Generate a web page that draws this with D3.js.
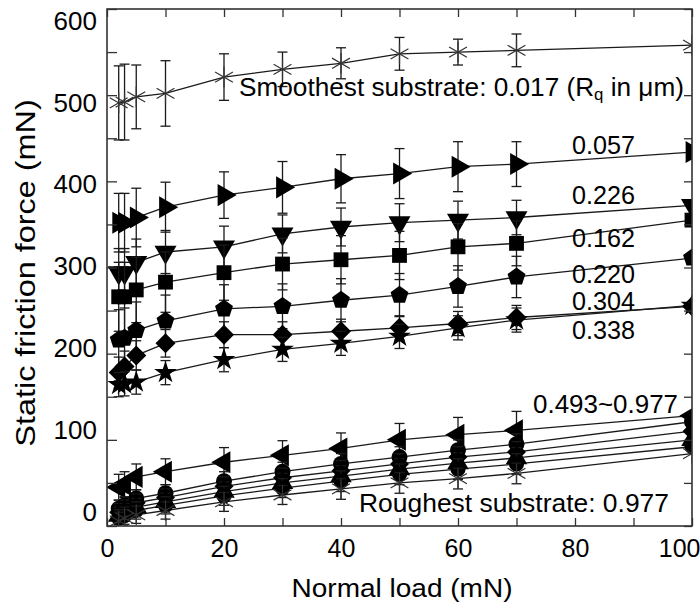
<!DOCTYPE html>
<html>
<head>
<meta charset="utf-8">
<script src="https://cdn.jsdelivr.net/npm/d3@7"></script>
<style>
  body { margin: 0; background: #fff; }
  text { font-family: "Liberation Sans", Arial, sans-serif; fill: #000; }
</style>
</head>
<body>
<svg id="chart"></svg>
<script>
// normal load (mN) at which each substrate was measured
const loads = [2, 3, 5, 10, 20, 30, 40, 50, 60, 70, 100];

// static friction force (mN), one array per substrate roughness Rq (um)
const rq017 = [491, 492, 498, 502, 521, 530, 537, 548, 550, 552, 558];
const rq057 = [352, 352, 358, 370, 384, 393, 403, 409, 417, 420, 434];
const rq226 = [294, 294, 306, 318, 324, 339, 347, 352, 355, 358, 372];
const rq162 = [266, 266, 274, 283, 294, 304, 309, 314, 324, 328, 355];
const rq220 = [216, 218, 227, 238, 252, 255, 262, 268, 278, 289, 311];
const rq304 = [178, 185, 198, 212, 222, 222, 226, 230, 235, 242, 255];
const rq338 = [164, 165, 167, 178, 193, 205, 212, 220, 230, 239, 256];
const rq493 = [45, 48, 57, 63, 74, 82, 90, 100, 106, 111, 128];
const rqLowB = [20, 24, 32, 38, 52, 63, 72, 80, 88, 95, 121];
const rqLowC = [16, 20, 27, 33, 46, 56, 64, 72, 80, 86, 110];
const rqLowD = [12, 16, 22, 28, 40, 50, 58, 66, 73, 79, 100];
const rqLowE = [9, 12, 18, 24, 35, 44, 52, 60, 66, 72, 92];
const rq977 = [6, 9, 13, 18, 28, 36, 43, 50, 55, 61, 84];

// error bars (+/- mN)
const err017 = [43, 44, 37, 38, 27, 20, 18, 19, 15, 19, 0];
const err057 = [34, 34, 34, 29, 27, 30, 28, 29, 29, 26, 0];
const err226 = [28, 28, 27, 25, 24, 22, 22, 22, 22, 20, 0];
const err162 = [40, 40, 38, 35, 32, 30, 28, 28, 27, 26, 0];
const err220 = [35, 35, 33, 30, 28, 26, 25, 25, 24, 24, 0];
const err304 = [18, 18, 17, 16, 15, 15, 14, 14, 14, 14, 0];
const err338 = [14, 14, 14, 14, 14, 14, 14, 14, 14, 14, 0];
const err493 = [15, 15, 15, 15, 17, 17, 18, 19, 20, 22, 0];
const errLow = [10, 10, 10, 10, 11, 11, 12, 12, 12, 12, 0];

// ticks
const yTicks = d3.range(0, 601, 50);
const xTicks = d3.range(0, 101, 10);

const width = 700;
const height = 604;
const mLeft = 107, mRight = 692, mTop = 9, mBottom = 526;

const svg = d3.select("#chart")
    .attr("width", width)
    .attr("height", height);

const x = d3.scaleLinear().domain([0, 100]).range([mLeft, mRight]);
const y = d3.scaleLinear().domain([0, 600]).range([mBottom, mTop]);
// tick labels in the picture sit slightly squeezed compared with the ticks
const yLab = d3.scaleLinear().domain([0, 600]).range([512, 21]);

// custom symbols
const symbolPentagon = {
    draw(ctx, size) {
        const r = Math.sqrt(size / 2.378);
        for (let i = 0; i < 5; i++) {
            const a = -Math.PI / 2 + i * 2 * Math.PI / 5;
            if (i === 0) ctx.moveTo(r * Math.cos(a), r * Math.sin(a));
            else ctx.lineTo(r * Math.cos(a), r * Math.sin(a));
        }
        ctx.closePath();
    }
};

const series = [
    { v: rq017, e: err017, sym: d3.symbolAsterisk, size: 300, rot: 0, stroke: true },
    { v: rq057, e: err057, sym: d3.symbolTriangle, size: 210, rot: 90 },
    { v: rq226, e: err226, sym: d3.symbolTriangle, size: 210, rot: 180 },
    { v: rq162, e: err162, sym: d3.symbolSquare, size: 220, rot: 0 },
    { v: rq220, e: err220, sym: symbolPentagon, size: 210, rot: 0 },
    { v: rq304, e: err304, sym: d3.symbolSquare, size: 200, rot: 45 },
    { v: rq338, e: err338, sym: d3.symbolStar, size: 160, rot: 0 },
    { v: rq493, e: err493, sym: d3.symbolTriangle, size: 210, rot: -90 },
    { v: rqLowB, e: errLow, sym: d3.symbolCircle, size: 200, rot: 0 },
    { v: rqLowC, e: errLow, sym: d3.symbolSquare, size: 180, rot: 45 },
    { v: rqLowD, e: errLow, sym: d3.symbolTriangle, size: 200, rot: 0 },
    { v: rqLowE, e: errLow, sym: d3.symbolCircle, size: 180, rot: 0 },
    { v: rq977, e: errLow, sym: d3.symbolAsterisk, size: 300, rot: 0, stroke: true }
];

svg.append("clipPath").attr("id", "clip")
  .append("rect")
    .attr("x", mLeft).attr("y", mTop)
    .attr("width", mRight - mLeft).attr("height", mBottom - mTop);

const plot = svg.append("g").attr("clip-path", "url(#clip)");

const line = d3.line()
    .x((d, i) => x(loads[i]))
    .y(d => y(d));

// lines first, then error bars and markers
series.forEach(s => {
    plot.append("path")
        .attr("d", line(s.v))
        .attr("fill", "none")
        .attr("stroke", "#1a1a1a")
        .attr("stroke-width", 1.3);
});

series.forEach(s => {
    const g = plot.append("g");
    const pts = s.v.map((v, i) => ({ x: loads[i], v: v, e: s.e[i] }));

    const eb = g.selectAll(".err")
        .data(pts.filter(d => d.e > 0))
        .enter().append("g")
        .attr("stroke", "#1a1a1a")
        .attr("stroke-width", 1.3);
    eb.append("line")
        .attr("x1", d => x(d.x)).attr("x2", d => x(d.x))
        .attr("y1", d => y(d.v - d.e)).attr("y2", d => y(d.v + d.e));
    eb.append("line")
        .attr("x1", d => x(d.x) - 5).attr("x2", d => x(d.x) + 5)
        .attr("y1", d => y(d.v + d.e)).attr("y2", d => y(d.v + d.e));
    eb.append("line")
        .attr("x1", d => x(d.x) - 5).attr("x2", d => x(d.x) + 5)
        .attr("y1", d => y(d.v - d.e)).attr("y2", d => y(d.v - d.e));

    g.selectAll(".mk")
        .data(pts)
        .enter().append("path")
        .attr("d", d3.symbol(s.sym, s.size))
        .attr("transform", d => `translate(${x(d.x)},${y(d.v)}) rotate(${s.rot})`)
        .attr("fill", s.stroke ? "none" : "#000")
        .attr("stroke", s.stroke ? "#333" : "none")
        .attr("stroke-width", 1.2);
});

// axes with inward ticks
const yAxis = d3.axisLeft(y)
    .tickValues(yTicks)
    .tickSize(-10)
    .tickPadding(10)
    .tickFormat(d => d % 100 ? "" : d);
const gy = svg.append("g")
    .attr("transform", `translate(${mLeft},0)`)
    .call(yAxis);
gy.selectAll("text")
    .attr("y", d => yLab(d) - y(d))
    .style("font-size", "26px");

const xAxis = d3.axisBottom(x)
    .tickValues(xTicks)
    .tickSize(-8)
    .tickPadding(13)
    .tickFormat(d => d % 20 ? "" : d);
const gx = svg.append("g")
    .attr("transform", `translate(0,${mBottom})`)
    .call(xAxis);
gx.selectAll("text")
    .style("font-size", "25px")
    .filter(d => d === 100)
    .attr("text-anchor", "end")
    .attr("x", 8);

svg.append("g")
    .attr("transform", `translate(0,${mTop})`)
    .call(d3.axisTop(x).tickValues(xTicks).tickSize(-8).tickFormat(""));
svg.append("g")
    .attr("transform", `translate(${mRight},0)`)
    .call(d3.axisRight(y).tickValues(yTicks).tickSize(-8).tickFormat(""));

svg.selectAll(".domain").remove();
svg.selectAll(".tick line").attr("stroke", "#333").attr("stroke-width", 1.3);

svg.append("rect")
    .attr("x", mLeft).attr("y", mTop)
    .attr("width", mRight - mLeft).attr("height", mBottom - mTop)
    .attr("fill", "none")
    .attr("stroke", "#333")
    .attr("stroke-width", 1.6);

// axis titles
svg.append("text")
    .attr("x", 402).attr("y", 597)
    .attr("text-anchor", "middle")
    .attr("textLength", 221)
    .attr("lengthAdjust", "spacingAndGlyphs")
    .style("font-size", "25px")
    .text("Normal load (mN)");

// the y title is stretched along its length in the picture
svg.append("text")
    .attr("transform", "translate(35,273) rotate(-90) scale(1.2,1)")
    .attr("text-anchor", "middle")
    .style("font-size", "27px")
    .text("Static friction force (mN)");

// series labels
const smooth = svg.append("text")
    .attr("x", 239).attr("y", 96)
    .attr("textLength", 445)
    .attr("lengthAdjust", "spacingAndGlyphs")
    .style("font-size", "25px");
smooth.append("tspan").text("Smoothest substrate: 0.017 (R");
smooth.append("tspan").attr("dy", 4).style("font-size", "16px").text("q");
smooth.append("tspan").attr("dy", -4).text(" in \u03bcm)");

const labels = [
    ["0.057", 572, 154, 63],
    ["0.226", 572, 204, 63],
    ["0.162", 572, 247, 63],
    ["0.220", 572, 283, 63],
    ["0.304", 572, 310, 63],
    ["0.338", 572, 339, 63],
    ["0.493~0.977", 533, 413, 145],
    ["Roughest substrate: 0.977", 359, 512, 310]
];
svg.selectAll(".lab")
    .data(labels)
    .enter().append("text")
    .attr("x", d => d[1])
    .attr("y", d => d[2])
    .attr("textLength", d => d[3])
    .attr("lengthAdjust", "spacingAndGlyphs")
    .style("font-size", "25px")
    .text(d => d[0]);
</script>
</body>
</html>
